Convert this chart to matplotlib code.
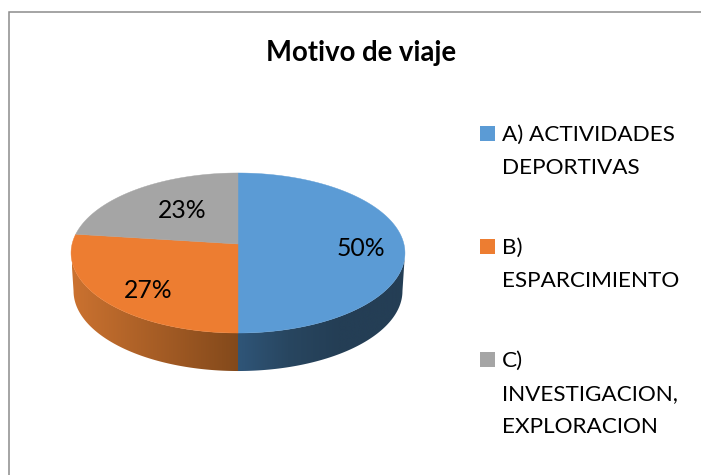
import matplotlib

matplotlib.use("Agg")
import matplotlib.pyplot as plt
import numpy as np
from matplotlib.colors import LinearSegmentedColormap
from matplotlib.patches import Polygon, Rectangle

title = "Motivo de viaje"
values = [50, 27, 23]
legend_lines = [
    ["A) ACTIVIDADES", "DEPORTIVAS"],
    ["B)", "ESPARCIMIENTO"],
    ["C)", "INVESTIGACION,", "EXPLORACION"],
]
colors = ["#5B9BD5", "#ED7D31", "#A5A5A5"]

FONT = "Lato"
TEXT = "#000000"

# pie geometry in pixels, y goes down
CX, CY = 238, 244
A, B, K = 165.9, 79.0, 0.1125  # perspective circle
DEPTH = 38
BOTTOM_SCALE = 0.985


def rim(theta, depth=0, scale=1.0):
    # theta clockwise from the top of the pie, in radians
    d = 1 + K * np.cos(theta)
    x = CX + scale * A * np.sin(theta) / d
    y = CY - B * np.cos(theta) / d + depth
    return np.column_stack([x, y])


def wall(ax, t0, t1, stops, x0, x1):
    t = np.linspace(t0, t1, 120)
    pts = np.vstack([rim(t), rim(t[::-1], DEPTH, BOTTOM_SCALE)])
    cmap = LinearSegmentedColormap.from_list("wall", stops)
    im = ax.imshow(
        np.linspace(0, 1, 256)[None, :],
        cmap=cmap,
        extent=[x0, x1, 380, 240],
        aspect="auto",
        zorder=1,
    )
    im.set_clip_path(Polygon(pts, transform=ax.transData))


fig = plt.figure(figsize=(7.01, 4.75), dpi=100)
ax = fig.add_axes([0, 0, 1, 1])

# slices, clockwise from twelve o'clock
edges = np.cumsum([0] + values) / sum(values) * 2 * np.pi
side = np.arccos(-K)  # where the rim turns round at left and right

wall(ax, side, edges[1], [(0, "#2F5578"), (0.3, "#284660"), (0.6, "#243E55"), (1, "#243E55")], 238, 405)
wall(ax, edges[1], 2 * np.pi - side, [(0, "#83491B"), (1, "#CB7230")], 238, 72)

for i, c in enumerate(colors):
    t = np.linspace(edges[i], edges[i + 1], 200)
    pts = np.vstack([[CX, CY], rim(t)])
    ax.add_patch(Polygon(pts, closed=True, facecolor=c, edgecolor=c, linewidth=0.3, zorder=2))

label_pos = [(360.5, 248), (148, 291), (182.5, 210)]
for v, (x, y) in zip(values, label_pos):
    ax.text(x, y, f"{v}%", family=FONT, fontsize=17.8, color=TEXT, ha="center", va="center", zorder=3)

ax.text(361.5, 53, title, family=FONT, fontsize=19.8, fontweight="bold", color=TEXT, ha="center", va="center")

# legend, kept by hand because the entries wrap
first_base = [141, 254, 367]
for lines, c, y0 in zip(legend_lines, colors, first_base):
    ax.add_patch(Rectangle((480, y0 - 15), 15, 15, facecolor=c, edgecolor="none"))
    for n, line in enumerate(lines):
        ax.text(502, y0 + n * 33, line, family=FONT, fontsize=16.2, color=TEXT, ha="left", va="baseline")

# chart frame, only top and left show in the crop
ax.plot([9, 9, 701], [475, 12, 12], color="#8C8C8C", linewidth=1.1, solid_joinstyle="miter")

ax.set_xlim(0, 701)
ax.set_ylim(475, 0)
ax.axis("off")
fig.savefig("out.png", dpi=100, facecolor="white")
